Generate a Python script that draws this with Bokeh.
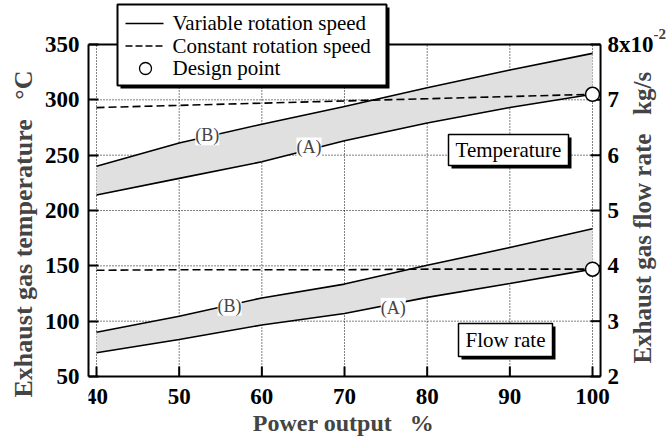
import math
from bokeh.plotting import figure
from bokeh.models import Range1d, Label, FixedTicker, Title
from bokeh.core.properties import value
from bokeh.embed import file_html
from bokeh.resources import INLINE

power = [40, 50, 60, 70, 80, 90, 100]
temp_B = [240, 261, 278, 294, 311, 327, 342]
temp_A = [214, 229, 244, 263, 279, 293, 305]
temp_const = [293, 295, 297, 299, 301, 303, 305]
flow_B = [2.80, 3.09, 3.42, 3.67, 4.01, 4.33, 4.67]
flow_A = [2.43, 2.67, 2.93, 3.14, 3.43, 3.68, 3.94]
flow_const = [3.92, 3.93, 3.93, 3.93, 3.94, 3.94, 3.94]
design_power = [100]
design_temp = [305]
design_flow = [3.94]
x_ticks = [40, 50, 60, 70, 80, 90, 100]
x_tick_labels = ["40", "50", "60", "70", "80", "90", "100"]
temp_ticks = [50, 100, 150, 200, 250, 300, 350]
flow_ticks = [2, 3, 4, 5, 6, 7, 8]
flow_tick_labels = ["2", "3", "4", "5", "6", "7", "8x10"]
legend_labels = ["Variable rotation speed", "Constant rotation speed", "Design point"]

FONT = "Liberation Serif"
GAP = "\u00a0\u00a0\u00a0"

# frame covers canvas from x=88 to the right edge and the full height;
# the boxed axes (40..100 %, 50..350 degC) sit inside it
XPX = 8.2667          # px per % of power
TPX = 1.10667         # px per degC
x_lo, x_ax_r = 39.03, 100.97
x_hi = x_lo + 583 / XPX
t_lo, t_hi = 50, 350
t_bot, t_top = t_lo - 60 / TPX, t_hi + 44 / TPX
f_lo, f_hi = 2, 8
f_bot, f_top = f_lo - 60 / (TPX * 50), f_hi + 44 / (TPX * 50)


def px2x(px):
    return x_lo + (px - 88) / XPX


def py2t(py):
    return t_top - py / TPX


p = figure(width=671, height=436, output_backend="svg", toolbar_location=None,
           x_range=Range1d(x_lo, x_hi), y_range=Range1d(t_bot, t_top), x_axis_location=None,
           min_border_left=88, min_border_right=0, min_border_top=0, min_border_bottom=0)
p.extra_y_ranges = {"flow": Range1d(f_bot, f_top)}
p.outline_line_color = None
p.background_fill_color = "white"
p.border_fill_color = "white"
p.xgrid.visible = False
p.ygrid.visible = False

ya = p.yaxis[0]
ya.ticker = FixedTicker(ticks=temp_ticks)
ya.bounds = (t_lo, t_hi)
ya.axis_line_width = 2
ya.major_tick_in = 10
ya.major_tick_out = 0
ya.major_tick_line_width = 2
ya.minor_tick_line_color = None
ya.major_label_text_font = FONT
ya.major_label_text_font_style = "bold"
ya.major_label_text_font_size = "23px"
ya.major_label_text_color = "black"
ya.major_label_standoff = 9

p.add_layout(Title(text="Exhaust gas temperature" + GAP + "\u00b0C", text_font=FONT,
                   text_font_style="bold", text_font_size="26px", align="left", offset=39,
                   standoff=8), "left")

# grid
p.segment(x0=x_ticks, y0=[t_lo] * len(x_ticks), x1=x_ticks, y1=[t_hi] * len(x_ticks),
          line_color="black", line_dash="1 2", line_width=1)
p.segment(x0=[x_lo] * len(temp_ticks), y0=temp_ticks, x1=[x_ax_r] * len(temp_ticks), y1=temp_ticks,
          line_color="black", line_dash="1 2", line_width=1)

# bands
p.varea(x=power, y1=temp_A, y2=temp_B, fill_color="#e0e0e0")
p.varea(x=power, y1=flow_A, y2=flow_B, fill_color="#e0e0e0", y_range_name="flow")

# box: top, bottom axis, right axis
p.segment(x0=[x_lo, x_lo, x_ax_r], y0=[t_hi, t_lo, t_lo], x1=[x_ax_r, x_ax_r, x_ax_r],
          y1=[t_hi, t_lo, t_hi], line_color="black", line_width=2)
p.ray(x=x_ticks, y=[t_lo] * len(x_ticks), length=10, length_units="screen",
      angle=math.pi / 2, line_color="black", line_width=2)
p.text(x=x_ticks, y=[t_lo] * len(x_ticks), text=x_tick_labels, y_offset=12,
       text_baseline="top", text_align="center", text_font=value(FONT), text_font_style="bold",
       text_font_size="23px", text_color="black")
p.add_layout(Label(x=px2x(343), y=t_lo, text="Power output" + GAP + "%", text_font=FONT,
                   text_font_style="bold", text_font_size="24px", text_align="center",
                   text_baseline="alphabetic", y_offset=-46))

p.ray(x=[x_ax_r] * len(flow_ticks), y=flow_ticks, length=10, length_units="screen",
      angle=math.pi, line_color="black", line_width=2, y_range_name="flow")
p.text(x=[x_ax_r] * len(flow_ticks), y=flow_ticks, text=flow_tick_labels, x_offset=7,
       text_baseline="middle", text_align="left", text_font=value(FONT), text_font_style="bold",
       text_font_size="23px", text_color="black", y_range_name="flow")
p.add_layout(Label(x=x_ax_r, y=f_hi, text="-2", text_font=FONT, text_font_style="bold",
                   text_font_size="15px", x_offset=53, y_offset=10, text_baseline="middle",
                   y_range_name="flow"))
p.add_layout(Label(x=x_ax_r, y=4.87, text="Exhaust gas flow rate" + GAP + "kg/s", text_font=FONT,
                   text_font_style="bold", text_font_size="25px", angle=math.pi / 2,
                   text_align="center", text_baseline="middle", x_offset=42,
                   y_range_name="flow"))

lw = 1.6
p.line(power, temp_B, line_color="black", line_width=lw)
p.line(power, temp_A, line_color="black", line_width=lw)
p.line(power, temp_const, line_color="black", line_width=lw, line_dash="8 4")
p.line(power, flow_B, line_color="black", line_width=lw, y_range_name="flow")
p.line(power, flow_A, line_color="black", line_width=lw, y_range_name="flow")
p.line(power, flow_const, line_color="black", line_width=lw, line_dash="8 4", y_range_name="flow")

p.scatter(design_power, design_temp, size=14, fill_color="white", line_color="black", line_width=1.5)
p.scatter(design_power, design_flow, size=14, fill_color="white", line_color="black",
          line_width=1.5, y_range_name="flow")


def curve_label(x, y, t, rng="default"):
    p.add_layout(Label(x=x, y=y, text=t, text_font=FONT, text_font_size="18px",
                       text_align="center", text_baseline="middle",
                       background_fill_color="white", y_range_name=rng))


curve_label(53.4, 268, "(B)")
curve_label(65.7, 257, "(A)")
curve_label(56.1, 3.28, "(B)", "flow")
curve_label(75.9, 3.24, "(A)", "flow")


def shadow_box(l, r, t, b, lw_box):
    p.quad(left=[px2x(l + 3)], right=[px2x(r + 3)], top=[py2t(t + 3)], bottom=[py2t(b + 3)],
           fill_color="black", line_color=None)
    p.quad(left=[px2x(l)], right=[px2x(r)], top=[py2t(t)], bottom=[py2t(b)],
           fill_color="white", line_color="black", line_width=lw_box)


def boxed(l, r, t, b, text):
    shadow_box(l, r, t, b, 1.5)
    p.text(x=[px2x((l + r) / 2)], y=[py2t((t + b) / 2)], text=[text], text_font=value(FONT),
           text_font_size="21px", text_align="center", text_baseline="middle", text_color="black")


boxed(448, 568, 134, 165, "Temperature")
boxed(458, 552, 323, 356, "Flow rate")

# legend (key box above the plot box)
shadow_box(117, 386, 4, 85, 2)
rows = [23, 45.5, 68]
p.segment(x0=[px2x(125)], y0=[py2t(rows[0])], x1=[px2x(163)], y1=[py2t(rows[0])],
          line_color="black", line_width=lw)
p.segment(x0=[px2x(125)], y0=[py2t(rows[1])], x1=[px2x(163)], y1=[py2t(rows[1])],
          line_color="black", line_width=lw, line_dash="7 3")
p.scatter(x=[px2x(145)], y=[py2t(rows[2])], size=12, fill_color="white", line_color="black",
          line_width=1.3)
p.text(x=[px2x(172)] * 3, y=[py2t(r) for r in rows], text=legend_labels, text_font=value(FONT),
       text_font_size="21px", text_align="left", text_baseline="middle", text_color="black")

open("out.html", "w").write(file_html(p, INLINE))
